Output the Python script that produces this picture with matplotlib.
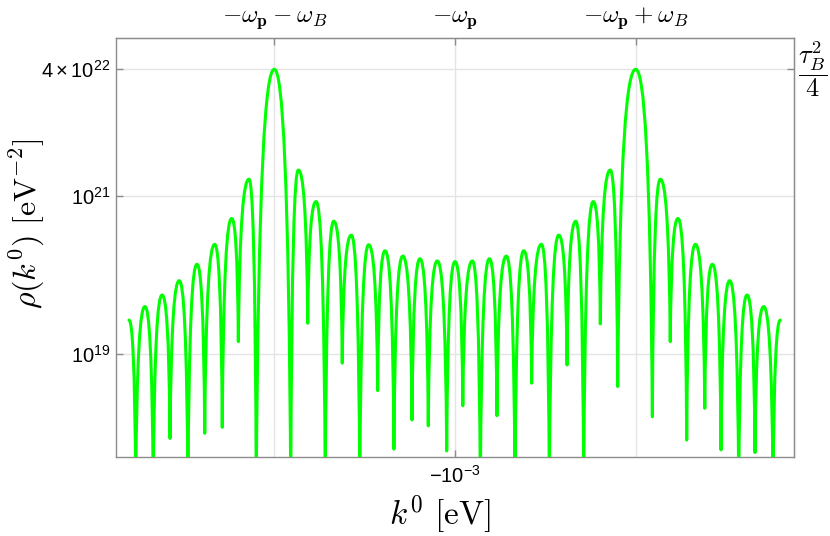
import matplotlib
matplotlib.use("Agg")
import matplotlib.pyplot as plt
import numpy as np
from matplotlib.path import Path
from matplotlib.patches import PathPatch
from matplotlib.ticker import NullLocator

plt.rcParams['font.family'] = ['Liberation Sans', 'DejaVu Sans']
plt.rcParams['mathtext.fontset'] = 'custom'
plt.rcParams['mathtext.rm'] = 'Liberation Sans'
plt.rcParams['mathtext.it'] = 'Liberation Sans:italic'
plt.rcParams['mathtext.bf'] = 'Liberation Sans:bold'

# ---------------- data ----------------
omega_p = 1.0e-3          # eV
omega_B = 1.0e-4          # eV (spacing of the two peaks, read relative)
rho_top = 4.0e22          # tau_B^2 / 4

# extrema of rho(k0), left to right:
# offset of k0 from -omega_p in units of omega_B, alternating peak / dip
# (first and last entries are the curve ends; None = dip below the frame)
u_ext = [-1.804, -1.767, -1.716, -1.670, -1.621, -1.577, -1.526, -1.478,
         -1.428, -1.385, -1.330, -1.288, -1.236, -1.199, -1.140, -1.100,
         -1.000, -0.909, -0.867, -0.815, -0.769, -0.718, -0.671, -0.624,
         -0.574, -0.527, -0.478, -0.428, -0.387, -0.338, -0.289, -0.238,
         -0.194, -0.148, -0.098, -0.046, 0.000, 0.043, 0.096, 0.140,
         0.190, 0.232, 0.284, 0.332, 0.380, 0.424, 0.478, 0.522,
         0.574, 0.620, 0.668, 0.712, 0.765, 0.804, 0.859, 0.900,
         1.000, 1.092, 1.136, 1.191, 1.234, 1.282, 1.330, 1.382,
         1.424, 1.472, 1.520, 1.570, 1.616, 1.660, 1.708, 1.760, 1.800]
rho_ext = [2.7e19, None, 4.0e19, None, 5.6e19, 8.6e17, 8.5e19, None,
           1.37e20, 1.0e18, 2.45e20, 1.19e18, 5.2e20, 1.44e19, 1.63e21, None,
           4.0e22, None, 2.13e21, 2.46e19, 8.5e20, None, 4.8e20, 7.7e18,
           3.2e20, None, 2.42e20, 3.46e18, 2.03e20, 6.3e17, 1.74e20, 1.47e18,
           1.61e20, 1.24e18, 1.51e20, 5.97e17, 1.48e20, 2.23e18, 1.51e20, None,
           1.61e20, 1.67e18, 1.74e20, None, 2.03e20, 4.3e18, 2.45e20, None,
           3.2e20, 7.3e18, 4.8e20, None, 8.5e20, 2.41e19, 2.13e21, 3.9e18,
           4.0e22, 1.62e18, 1.63e21, 1.44e19, 5.2e20, 8.2e17, 2.45e20, 2.07e18,
           1.37e20, 6.15e17, 8.5e19, None, 5.6e19, 5.7e17, 4.0e19, None, 2.7e19]

y_ticks = [1e19, 1e21, 4e22]
y_ticklabels = [r'$10^{19}$', r'$10^{21}$', r'$4\times10^{22}$']
top_labels = [r'$-\omega_{\mathbf{p}}-\omega_B$', r'$-\omega_{\mathbf{p}}$',
              r'$-\omega_{\mathbf{p}}+\omega_B$']
bottom_label = r'$-10^{-3}$'

# ---------------- figure ----------------
W, H = 830, 536
fig = plt.figure(figsize=(W / 100, H / 100), dpi=100)
ax = fig.add_axes([116 / W, 1 - 457 / H, (793.5 - 116) / W, (457 - 38.3) / H])

ax.set_yscale('log')
ax.set_ylim(10 ** 17.70, 10 ** 22.994)
ax.set_xlim(-omega_p - 1.876 * omega_B, -omega_p + 1.873 * omega_B)

grid_c = '#e4e4e4'
frame_c = '#8c8c8c'
top_ticks = [-omega_p - omega_B, -omega_p, -omega_p + omega_B]
for yv in y_ticks:
    ax.axhline(yv, color=grid_c, lw=1.0, zorder=0)
for xv in top_ticks:
    ax.axvline(xv, color=grid_c, lw=1.0, zorder=0)

# curve: each half-lobe drawn by a cubic Bezier segment in (k0, log rho)
k_ext = -omega_p + np.array(u_ext) * omega_B
floor = 10 ** 17.3
L = np.log10([floor if r is None else r for r in rho_ext])
verts = [(k_ext[0], 10 ** L[0])]
codes = [Path.MOVETO]
for i in range(len(k_ext) - 1):
    xa, La, xb, Lb = k_ext[i], L[i], k_ext[i + 1], L[i + 1]
    dx = xb - xa
    if i % 2 == 1:   # dip -> peak
        c1 = (xa + 0.12 * dx, La + 0.75 * (Lb - La))
        c2 = (xb - 0.5 * dx, Lb)
    else:            # peak -> dip
        c1 = (xa + 0.5 * dx, La)
        c2 = (xb - 0.12 * dx, Lb + 0.75 * (La - Lb))
    verts += [(c1[0], 10 ** c1[1]), (c2[0], 10 ** c2[1]), (xb, 10 ** Lb)]
    codes += [Path.CURVE4] * 3
ax.add_patch(PathPatch(Path(verts, codes), fill=False, edgecolor='#00ff00',
                       lw=2.2, joinstyle='round', capstyle='round', zorder=3))

# ticks
ax.set_yticks(y_ticks, labels=y_ticklabels)
ax.yaxis.set_minor_locator(NullLocator())
ax.set_xticks([-omega_p], labels=[bottom_label])
ax.xaxis.set_minor_locator(NullLocator())
ax.tick_params(direction='in', length=5, width=1, color=frame_c,
               labelsize=14.5, pad=4, labelcolor='black')
ax.tick_params(axis='x', pad=6)
for s in ax.spines.values():
    s.set_color(frame_c)
    s.set_linewidth(1.0)

sec_top = ax.secondary_xaxis('top')
sec_top.set_xticks(top_ticks, labels=['', '', ''])
sec_top.xaxis.set_minor_locator(NullLocator())
sec_top.tick_params(direction='in', length=5, width=1, color=frame_c)
sec_top.spines['top'].set_color(frame_c)

sec_right = ax.secondary_yaxis('right')
sec_right.set_yticks([rho_top], labels=[''])
sec_right.yaxis.set_minor_locator(NullLocator())
sec_right.tick_params(direction='in', length=5, width=1, color=frame_c)
sec_right.spines['right'].set_color(frame_c)

tr_top = ax.get_xaxis_transform()
for xv, lab in zip(top_ticks, top_labels):
    ax.text(xv, 1.0 + 7 / 419, lab, transform=tr_top, ha='center', va='bottom',
            fontsize=18, math_fontfamily='cm', color='black')

ax.text(1.0 + 5 / 678, rho_top, r'$\dfrac{\tau_B^2}{4}$',
        transform=ax.get_yaxis_transform(), ha='left', va='center',
        fontsize=19, math_fontfamily='cm', color='black')

fig.text(27 / W, 1 - 224 / H, r'$\rho(k^0)\ [\mathrm{eV}^{-2}]$', rotation=90,
         ha='center', va='center', fontsize=23, math_fontfamily='cm')
fig.text(440 / W, 1 - 515 / H, r'$k^0\ [\mathrm{eV}]$', ha='center', va='center',
         fontsize=24, math_fontfamily='cm')

fig.savefig('out.png', dpi=100)
